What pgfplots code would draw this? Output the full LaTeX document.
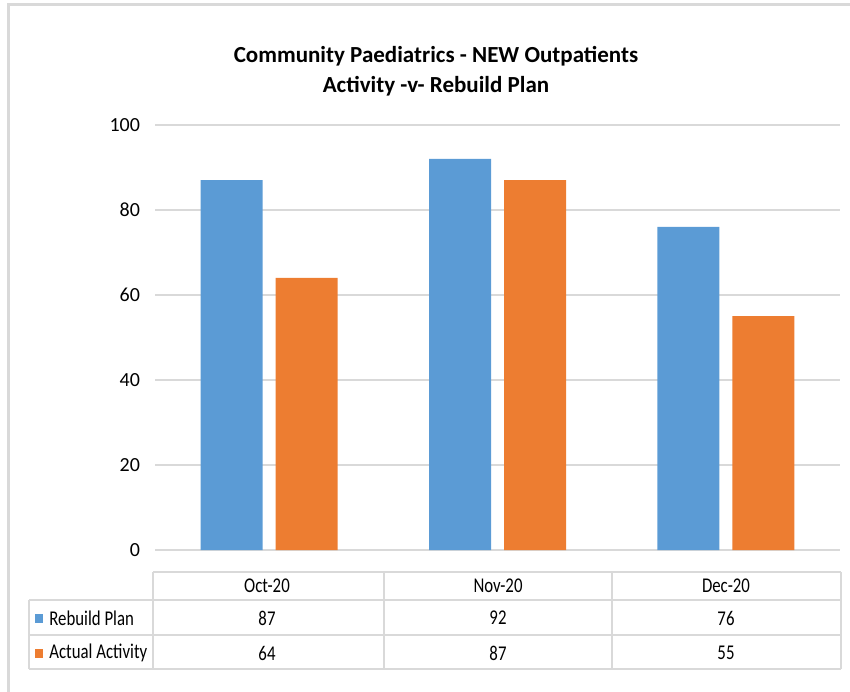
\documentclass[border=0pt]{standalone}
\usepackage{fontspec}
\setmainfont{Carlito}
\newfontfamily\tablefont[FakeStretch=0.8]{Carlito}
\usepackage{pgfplots}
\pgfplotsset{compat=1.18}

\definecolor{planblue}{HTML}{5B9BD5}
\definecolor{actorange}{HTML}{ED7D31}
\definecolor{gridgray}{HTML}{D9D9D9}

\begin{document}
\begin{tikzpicture}[x=0.5pt,y=0.5pt,font=\fontsize{10}{12}\selectfont]
  % frame: 1 unit = 1 pixel of the reference, y measured from the bottom
  \path[use as bounding box] (0,0) rectangle (850,691);
  \draw[gridgray,line width=1.5pt] (8,-5) -- (8,686) -- (860,686);

  \node[font=\bfseries\fontsize{11.5}{15}\selectfont,align=center] at (436,620)
    {Community Paediatrics - NEW Outpatients\\Activity -v- Rebuild Plan};

  \begin{axis}[
    at={(155pt*0.5,141pt*0.5)}, anchor=south west,
    scale only axis,
    width=342.5pt, height=212.5pt,
    ybar=6.5pt, bar width=31pt,
    xmin=-0.5, xmax=2.5,
    ymin=0, ymax=100,
    ytick={0,20,...,100},
    xtick=\empty,
    axis line style={draw=none},
    ymajorgrids, grid style={gridgray,line width=0.8pt},
    major tick length=0pt,
    yticklabel style={xshift=-4pt},
    /pgf/number format/assume math mode=true,
    clip=false,
  ]
    \addplot[fill=planblue,draw=none] coordinates {(0,87) (1,92) (2,76)};
    \addplot[fill=actorange,draw=none] coordinates {(0,64) (1,87) (2,55)};
  \end{axis}

  % data table below the plot
  \begin{scope}[gridgray,line width=0.8pt]
    \draw (153,119) -- (841,119);
    \draw (29,91) -- (841,91);
    \draw (29,56) -- (841,56);
    \draw (29,22) -- (841,22);
    \draw (29,91) -- (29,22);
    \foreach \x in {153,384,612,841} \draw (\x,119) -- (\x,22);
  \end{scope}
  \begin{scope}[every node/.style={font=\tablefont\fontsize{10.5}{12}\selectfont}]
    \node at (267,105) {Oct-20};
    \node at (498,105) {Nov-20};
    \node at (726,105) {Dec-20};
    \node[anchor=west,inner sep=0pt] at (49,73) {Rebuild Plan};
    \node[anchor=west,inner sep=0pt] at (49,38) {Actual Activity};
    \node at (267,73) {87};
    \node at (498,73) {92};
    \node at (726,73) {76};
    \node at (267,38) {64};
    \node at (498,38) {87};
    \node at (726,38) {55};
  \end{scope}
  \fill[planblue] (35,68) rectangle (43,77);
  \fill[actorange] (35,33) rectangle (43,42);
\end{tikzpicture}
\end{document}
